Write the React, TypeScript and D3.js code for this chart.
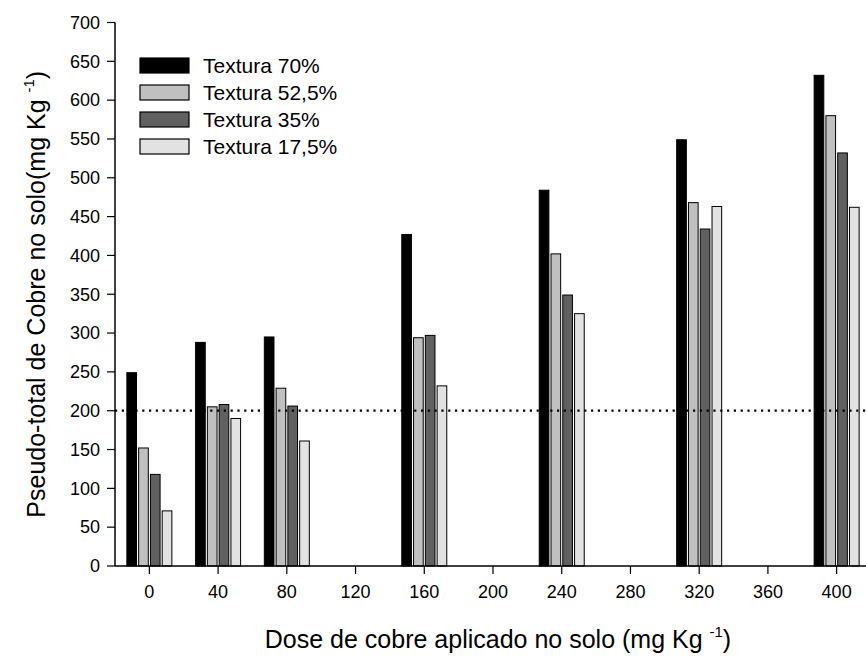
import * as d3 from 'd3';

// data
const doses = [0, 40, 80, 160, 240, 320, 400];
const series = ['Textura 70%', 'Textura 52,5%', 'Textura 35%', 'Textura 17,5%'];
const fills = ['#000000', '#c0c0c0', '#606060', '#e2e2e2'];
const t70 = [249, 288, 295, 427, 484, 549, 632];
const t525 = [152, 205, 229, 294, 402, 468, 580];
const t35 = [118, 208, 206, 297, 349, 434, 532];
const t175 = [71, 190, 161, 232, 325, 463, 462];
const xTicks = [0, 40, 80, 120, 160, 200, 240, 280, 320, 360, 400];
const yTicks = [0, 50, 100, 150, 200, 250, 300, 350, 400, 450, 500, 550, 600, 650, 700];
const refLine = 200;

const W = 866;
const H = 659;
const FONT = '"Liberation Sans", Arial, sans-serif';

export default function App() {
  const values = [t70, t525, t35, t175];

  const x = d3.scaleLinear().domain([-20, 420]).range([115, 871]);
  const y = d3.scaleLinear().domain([0, 700]).range([566, 22.5]);
  const off = d3.scaleBand<string>().domain(series).range([-22.5, 22.5]).paddingInner(0.18);

  const x0 = x.range()[0];
  const y0 = y(0);

  return (
    <svg width={W} height={H} style={{ position: 'absolute', left: 0, top: 0, background: '#fff' }} fontFamily={FONT}>
      {/* bars */}
      {doses.map((d, i) => (
        <g key={d}>
          {series.map((s, k) => (
            <rect
              key={s}
              x={x(d) + (off(s) as number)}
              y={y(values[k][i])}
              width={off.bandwidth()}
              height={y0 - y(values[k][i])}
              fill={fills[k]}
              stroke="#000"
              strokeWidth={1}
            />
          ))}
        </g>
      ))}

      {/* reference line */}
      <line x1={x0} x2={W} y1={y(refLine)} y2={y(refLine)} stroke="#000" strokeWidth={2.2} strokeDasharray="2.2,4.6" />

      {/* y axis */}
      <line x1={x0} x2={x0} y1={y(700)} y2={y0} stroke="#000" strokeWidth={1.5} />
      {yTicks.map(t => (
        <g key={t}>
          <line x1={x0 - 8} x2={x0} y1={y(t)} y2={y(t)} stroke="#000" strokeWidth={1.2} />
          <text x={x0 - 15} y={y(t)} dy="0.35em" textAnchor="end" fontSize={18} fill="#000">{t}</text>
        </g>
      ))}

      {/* x axis */}
      <line x1={x0} x2={W} y1={y0} y2={y0} stroke="#000" strokeWidth={1.5} />
      {xTicks.map(t => (
        <g key={t}>
          <line x1={x(t)} x2={x(t)} y1={y0} y2={y0 + 8} stroke="#000" strokeWidth={1.2} />
          <text x={x(t)} y={y0 + 32} textAnchor="middle" fontSize={18} fill="#000">{t}</text>
        </g>
      ))}

      {/* axis titles */}
      <text x={498} y={648} textAnchor="middle" fontSize={25} fill="#000">
        Dose de cobre aplicado no solo (mg Kg <tspan fontSize={15} dy={-11}>-1</tspan><tspan dy={11}>)</tspan>
      </text>
      <text transform={`translate(45, ${y(350)}) rotate(-90)`} textAnchor="middle" fontSize={25} fill="#000">
        Pseudo-total de Cobre no solo(mg Kg <tspan fontSize={15} dy={-11}>-1</tspan><tspan dy={11}>)</tspan>
      </text>

      {/* legend */}
      {series.map((s, k) => (
        <g key={s} transform={`translate(140, ${58 + k * 27})`}>
          <rect width={49} height={15} fill={fills[k]} stroke="#000" strokeWidth={1.2} />
          <text x={63} y={7.5} dy="0.35em" fontSize={21} fill="#000">{s}</text>
        </g>
      ))}
    </svg>
  );
}
